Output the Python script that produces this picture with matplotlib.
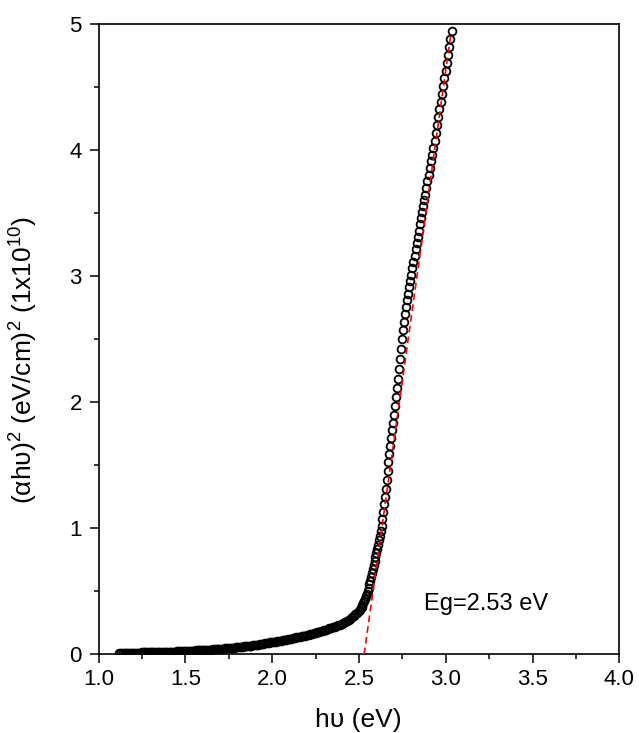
import matplotlib
matplotlib.use('Agg')
import matplotlib.pyplot as plt
from matplotlib.ticker import MultipleLocator

plt.rcParams['font.family'] = ['Liberation Sans', 'DejaVu Sans']
plt.rcParams['mathtext.fontset'] = 'custom'
plt.rcParams['mathtext.rm'] = 'Liberation Sans'
plt.rcParams['mathtext.it'] = 'Liberation Sans:italic'

# photon energy (eV) -- low-energy tail
hv_tail = [
    1.12, 1.13, 1.14, 1.15, 1.16, 1.17, 1.18, 1.19,
    1.20, 1.21, 1.22, 1.23, 1.24, 1.25, 1.26, 1.27, 1.28, 1.29,
    1.30, 1.31, 1.32, 1.33, 1.34, 1.35, 1.36, 1.37, 1.38, 1.39,
    1.40, 1.41, 1.42, 1.43, 1.44, 1.45, 1.46, 1.47, 1.48, 1.49,
    1.50, 1.51, 1.52, 1.53, 1.54, 1.55, 1.56, 1.57, 1.58, 1.59,
    1.60, 1.61, 1.62, 1.63, 1.64, 1.65, 1.66, 1.67, 1.68, 1.69,
    1.70, 1.71, 1.72, 1.73, 1.74, 1.75, 1.76, 1.77, 1.78, 1.79,
    1.80, 1.81, 1.82, 1.83, 1.84, 1.85, 1.86, 1.87, 1.88, 1.89,
    1.90, 1.91, 1.92, 1.93, 1.94, 1.95, 1.96, 1.97, 1.98, 1.99,
    2.00, 2.01, 2.02, 2.03, 2.04, 2.05, 2.06, 2.07, 2.08, 2.09,
    2.10, 2.11, 2.12, 2.13, 2.14, 2.15, 2.16, 2.17, 2.18, 2.19,
    2.20, 2.21, 2.22, 2.23, 2.24, 2.25, 2.26, 2.27, 2.28, 2.29,
    2.30, 2.31, 2.32, 2.33, 2.34, 2.35, 2.36, 2.37, 2.38, 2.39,
    2.40, 2.41, 2.42, 2.43, 2.44, 2.45, 2.46, 2.47, 2.48, 2.49,
]
# (alpha*hv)^2 in units of 1e10 (eV/cm)^2
ahv2_tail = [
    0.011, 0.011, 0.012, 0.012, 0.012, 0.012, 0.013, 0.013,
    0.013, 0.013, 0.014, 0.014, 0.014, 0.015, 0.015, 0.015, 0.016, 0.016,
    0.016, 0.017, 0.017, 0.017, 0.018, 0.018, 0.018, 0.019, 0.019, 0.020,
    0.020, 0.021, 0.021, 0.022, 0.022, 0.023, 0.024, 0.024, 0.025, 0.025,
    0.026, 0.027, 0.027, 0.028, 0.029, 0.029, 0.030, 0.031, 0.031, 0.032,
    0.033, 0.034, 0.035, 0.036, 0.036, 0.037, 0.038, 0.039, 0.040, 0.041,
    0.042, 0.043, 0.045, 0.046, 0.047, 0.048, 0.050, 0.051, 0.052, 0.054,
    0.055, 0.057, 0.058, 0.060, 0.062, 0.064, 0.065, 0.067, 0.069, 0.071,
    0.073, 0.075, 0.077, 0.080, 0.082, 0.084, 0.087, 0.089, 0.091, 0.094,
    0.096, 0.099, 0.101, 0.104, 0.106, 0.109, 0.112, 0.114, 0.117, 0.119,
    0.122, 0.125, 0.128, 0.131, 0.134, 0.137, 0.140, 0.143, 0.146, 0.149,
    0.152, 0.156, 0.159, 0.163, 0.167, 0.171, 0.175, 0.179, 0.182, 0.186,
    0.190, 0.195, 0.200, 0.205, 0.210, 0.215, 0.220, 0.225, 0.230, 0.235,
    0.240, 0.248, 0.256, 0.264, 0.272, 0.280, 0.292, 0.304, 0.316, 0.328,
]

# absorption edge
hv_edge = [
    2.500, 2.505, 2.510, 2.515, 2.520, 2.525, 2.530, 2.535, 2.540, 2.545,
    2.550, 2.555, 2.560, 2.565, 2.570, 2.575, 2.580, 2.585, 2.590, 2.595,
    2.600, 2.605, 2.610, 2.615, 2.620, 2.625, 2.630, 2.635, 2.640, 2.645,
    2.650, 2.655, 2.660, 2.665, 2.670, 2.675, 2.680, 2.685, 2.690, 2.695,
    2.700, 2.706, 2.712, 2.718, 2.724, 2.730, 2.736, 2.742, 2.748, 2.754,
    2.760, 2.766, 2.772, 2.778, 2.784, 2.790, 2.796, 2.802, 2.808, 2.814,
    2.820, 2.826, 2.832, 2.838, 2.844, 2.850, 2.856, 2.862, 2.868, 2.874,
    2.880, 2.887, 2.894, 2.901, 2.908, 2.915, 2.922, 2.929, 2.936, 2.943,
    2.950, 2.957, 2.964, 2.971, 2.978, 2.985, 2.992, 2.999, 3.006, 3.013,
    3.020, 3.027, 3.034,
]
ahv2_edge = [
    0.340, 0.352, 0.365, 0.377, 0.390, 0.407, 0.423, 0.440, 0.461, 0.482,
    0.503, 0.526, 0.554, 0.582, 0.610, 0.642, 0.674, 0.705, 0.737, 0.770,
    0.803, 0.837, 0.870, 0.906, 0.942, 0.978, 1.022, 1.076, 1.130, 1.190,
    1.250, 1.310, 1.383, 1.456, 1.526, 1.590, 1.654, 1.717, 1.778, 1.839,
    1.900, 1.971, 2.041, 2.113, 2.188, 2.263, 2.340, 2.420, 2.500, 2.570,
    2.640, 2.697, 2.754, 2.811, 2.863, 2.913, 2.963, 3.013, 3.063, 3.113,
    3.163, 3.213, 3.263, 3.313, 3.362, 3.412, 3.460, 3.507, 3.555, 3.602,
    3.648, 3.700, 3.753, 3.805, 3.859, 3.912, 3.966, 4.020, 4.074, 4.135,
    4.199, 4.263, 4.325, 4.386, 4.448, 4.509, 4.571, 4.633, 4.695, 4.758,
    4.822, 4.886, 4.950,
]

# linear extrapolation of the edge down to the axis
eg = 2.53
fit_hv = [eg, 3.03]
fit_ahv2 = [0.0, 4.93]

hv = hv_tail + hv_edge
ahv2 = ahv2_tail + ahv2_edge

fig = plt.figure(figsize=(6.39, 7.33), dpi=100)
ax = fig.add_axes([0.1543, 0.1074, 0.8149, 0.8594])

ax.plot(hv, ahv2, linestyle='none', marker='o', markersize=5.6,
        markerfacecolor='none', markeredgecolor='black', markeredgewidth=1.3)
ax.plot(fit_hv, fit_ahv2, color='red', linestyle=(0, (4, 2.5)), linewidth=1.2, zorder=3)

ax.text(2.874, 0.35, 'Eg=%.2f eV' % eg, fontsize=17, ha='left', va='baseline')

ax.set_xlim(1.0, 4.0)
ax.set_ylim(0, 5)
ax.xaxis.set_major_locator(MultipleLocator(0.5))
ax.xaxis.set_minor_locator(MultipleLocator(0.25))
ax.yaxis.set_major_locator(MultipleLocator(1))
ax.yaxis.set_minor_locator(MultipleLocator(0.5))
ax.set_xticklabels(['%.1f' % v for v in ax.get_xticks()])
ax.set_yticklabels(['%d' % v for v in ax.get_yticks()])

ax.tick_params(which='both', direction='out', top=False, right=False, labelsize=16, width=1.1)
ax.tick_params(which='major', length=6.5, pad=4)
ax.tick_params(axis='y', which='major', pad=5.5)
ax.tick_params(which='minor', length=3.6)
for sp in ax.spines.values():
    sp.set_linewidth(1.2)

fig.text(358.5 / 639, 1 - 720 / 733, 'h\u03c5 (eV)', fontsize=19, ha='center', va='center')
fig.text(24 / 639, 1 - 360 / 733, '(\u03b1h\u03c5)$^2$ (eV/cm)$^2$ (1x10$^{10}$)',
         fontsize=19, rotation=90, ha='center', va='center')

fig.savefig('out.png', dpi=100)
